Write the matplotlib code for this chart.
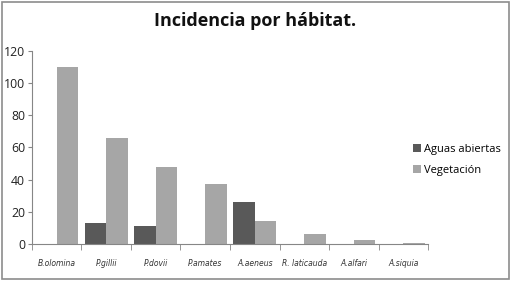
import matplotlib

matplotlib.use("Agg")
import matplotlib.pyplot as plt
import numpy as np
from matplotlib.patches import Rectangle

species = ["B.olomina", "P.gillii", "P.dovii", "P.amates", "A.aeneus",
           "R. laticauda", "A.alfari", "A.siquia"]
aguas_abiertas = [0, 13, 11, 0, 26, 0, 0, 0]
vegetacion = [110, 66, 48, 37, 14, 6.5, 2.5, 0.7]

dark = "#595959"
light = "#a6a6a6"
axis_color = "#868686"

fig = plt.figure(figsize=(5.11, 2.81), dpi=100)
ax = fig.add_axes([0.0626, 0.1317, 0.775, 0.6868])

x = np.arange(len(species))
width = 0.43
ax.bar(x - width / 2, aguas_abiertas, width, color=dark, label="Aguas abiertas")
ax.bar(x + width / 2, vegetacion, width, color=light, label="Vegetación")

ax.set_xlim(-0.5, len(species) - 0.5)
ax.set_ylim(0, 120)
ax.set_yticks(range(0, 121, 20))
ax.tick_params(axis="y", labelsize=8.8, length=3, color=axis_color, labelcolor="#222222", pad=2)
for lbl in ax.get_yticklabels():
    lbl.set_family("Open Sans")

ax.set_xticks(x)
ax.set_xticklabels(species, fontsize=5.5, style="italic", color="#333333")
ax.set_xticks(np.arange(-0.5, len(species)), minor=True)
ax.tick_params(axis="x", which="major", length=0, pad=11)
ax.tick_params(axis="x", which="minor", length=4, color=axis_color)

for side in ("top", "right"):
    ax.spines[side].set_visible(False)
for side in ("left", "bottom"):
    ax.spines[side].set_color(axis_color)
    ax.spines[side].set_linewidth(0.8)

fig.text(0.5, 0.925, "Incidencia por hábitat.", ha="center", va="center",
         fontsize=13, weight="bold", family="Open Sans", color="#111111")

fig.legend(loc="center left", bbox_to_anchor=(0.789, 0.43), frameon=False,
           handlelength=0.7, handleheight=0.7, handletextpad=0.3,
           labelspacing=0.9, prop={"family": "Open Sans", "size": 8})

fig.patches.append(Rectangle((0.004, 0.007), 0.992, 0.986, transform=fig.transFigure,
                             fill=False, edgecolor="#8c8c8c", linewidth=1.2))

fig.savefig("out.png", dpi=100)
